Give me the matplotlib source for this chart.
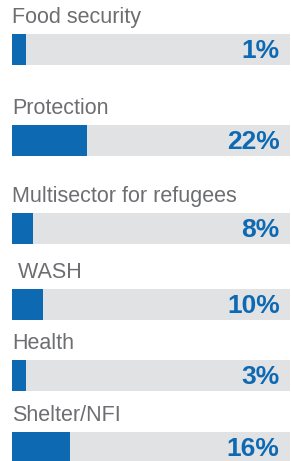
import matplotlib.pyplot as plt

# sector share of funding
sectors = ["Food security", "Protection", "Multisector for refugees",
           " WASH", "Health", "Shelter/NFI"]
pct_labels = ["1%", "22%", "8%", "10%", "3%", "16%"]
# filled part of each track (% of track length)
fill = [5, 27, 7.5, 11, 5, 21]

# layout (pixels from top)
bar_top = [34, 125, 213, 289, 360, 432]
bar_h = 31

blue = "#0E69B3"
grey = "#E1E2E4"
txt_grey = "#6D6E71"

W, H = 291, 461
fig = plt.figure(figsize=(W / 100, H / 100), dpi=100)
left, right = 12, 290
ax = fig.add_axes([left / W, 0, (right - left) / W, 1])
ax.set_xlim(0, 100)
ax.set_ylim(H, 0)
ax.axis("off")

for i in range(len(sectors)):
    yc = bar_top[i] + bar_h / 2
    ax.barh(yc, 100, height=bar_h, color=grey, left=0)
    ax.barh(yc, fill[i], height=bar_h, color=blue, left=0)
    ax.text(0, bar_top[i] - 11, sectors[i], fontsize=15.5, color=txt_grey,
            family="Liberation Sans", ha="left", va="baseline")
    ax.text(96.3, yc + 1, pct_labels[i], fontsize=19, color=blue,
            fontweight="bold", family="Liberation Sans", ha="right", va="center")

fig.savefig("out.png", dpi=100)
